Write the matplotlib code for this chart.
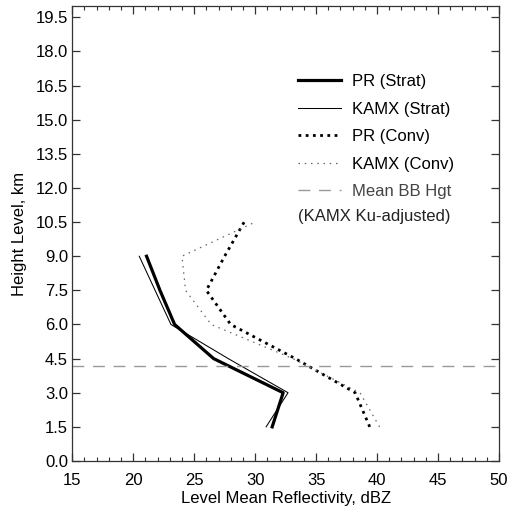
import numpy as np
import matplotlib
matplotlib.use('Agg')
import matplotlib.pyplot as plt

plt.rcParams['font.family'] = ['Liberation Sans', 'DejaVu Sans']
plt.rcParams['font.size'] = 12

# mean level reflectivity (dBZ) per height level (km)
strat_levels = [1.5, 3.0, 4.5, 6.0, 7.5, 9.0]
pr_strat = [31.4, 32.3, 26.6, 23.4, 22.2, 21.1]
kamx_strat = [30.9, 32.7, 27.8, 23.1, 21.8, 20.5]

conv_levels = [1.5, 3.0, 4.5, 6.0, 7.5, 9.0, 10.5]
pr_conv = [39.4, 38.2, 33.3, 28.0, 26.0, 27.5, 29.1]
kamx_conv = [40.2, 38.6, 33.1, 26.4, 24.3, 24.0, 30.0]

bb_height = 4.17

fig = plt.figure(figsize=(5.09, 5.16), dpi=100)
ax = fig.add_axes([0.1418, 0.1066, 0.8386, 0.8818])

ax.plot(pr_strat, strat_levels, color='black', lw=2.3, label='PR (Strat)')
ax.plot(kamx_strat, strat_levels, color='black', lw=0.75, label='KAMX (Strat)')
ax.plot(pr_conv, conv_levels, color='black', lw=2.0,
        linestyle=(0, (1.0, 1.6)), label='PR (Conv)')
ax.plot(kamx_conv, conv_levels, color='#666666', lw=0.9,
        linestyle=(0, (1.2, 3.8)), label='KAMX (Conv)')
ax.axhline(bb_height, color='#999999', lw=1.0,
           linestyle=(0, (8.5, 6.3)), label='Mean BB Hgt')

ax.set_xlim(15, 50)
ax.set_ylim(0, 20)
ax.set_xticks(np.arange(15, 51, 5))
ax.set_xticks(np.arange(15, 51, 1), minor=True)
ax.set_yticks(np.arange(0, 19.6, 1.5))
ax.set_yticklabels([f'{v:.1f}' for v in np.arange(0, 19.6, 1.5)])

ax.tick_params(which='both', direction='in', top=True, right=True, color='#333333')
ax.tick_params(which='major', length=5.5, width=0.9, pad=3)
ax.tick_params(axis='x', which='major', pad=9)
ax.tick_params(which='minor', length=2.6, width=0.8)
ax.tick_params(axis='y', which='minor', left=False, right=False)
for s in ax.spines.values():
    s.set_linewidth(0.9)
    s.set_color('#333333')

ax.set_xlabel('Level Mean Reflectivity, dBZ', labelpad=2)
ax.set_ylabel('Height Level, km', labelpad=6)

leg = ax.legend(loc='upper left', bbox_to_anchor=(0.529, 0.850), frameon=False,
                handlelength=2.6, handletextpad=0.66, labelspacing=0.75,
                borderaxespad=0, borderpad=0)
for t in leg.get_texts():
    if t.get_text() == 'Mean BB Hgt':
        t.set_color('#444444')
ax.text(0.529, 0.537, '(KAMX Ku-adjusted)', transform=ax.transAxes,
        ha='left', va='center', color='#222222')

fig.savefig('out.png', dpi=100)
